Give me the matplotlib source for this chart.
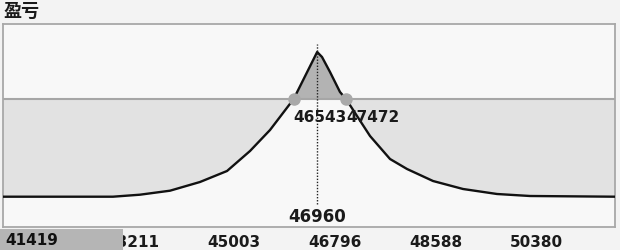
import matplotlib
matplotlib.use("Agg")
import matplotlib.pyplot as plt
from matplotlib.patches import Rectangle
from matplotlib.transforms import blended_transform_factory

plt.rcParams["font.family"] = ["DejaVu Sans", "Noto Sans CJK SC"]

# payoff curve (price -> profit/loss)
prices = [41384, 43336, 43815, 44348, 44880, 45360, 45768, 46123,
          46543, 46960, 47046, 47188, 47365, 47472, 47667, 47898, 48253,
          48555, 49016, 49549, 50152, 50738, 52246]
pnl = [-977, -977, -957, -917, -830, -720, -520, -310,
       0, 470, 420, 270, 70, 0, -170, -370, -600,
       -700, -820, -900, -950, -970, -977]

level = 0                       # breakeven line
breakevens = [46543, 47472]
breakeven_labels = ["46543", "47472"]
peak_price = 46960
peak_label = "46960"

tick_values = [43211, 45003, 46796, 48588, 50380]
tick_labels = ["43211", "45003", "46796", "48588", "50380"]
cursor_value = 41419
cursor_label = "41419"

fig = plt.figure(figsize=(6.2, 2.51), dpi=100, facecolor="#f3f3f3")
ax = fig.add_axes([3 / 620, 1 - 228 / 251, 612 / 620, 203 / 251])
ax.set_facecolor("#f8f8f8")
ax.set_xlim(41384, 52246)
ax.set_ylim(-1280, 750)

# shaded areas between breakeven line and curve
ax.fill_between(prices, pnl, level, where=[v <= level for v in pnl],
                interpolate=True, color="#e2e2e2", lw=0, zorder=1)
ax.fill_between(prices, pnl, level, where=[v >= level for v in pnl],
                interpolate=True, color="#b3b3b3", lw=0, zorder=1)
ax.axhline(level, color="#a6a6a6", lw=1.5, zorder=2)
ax.plot(prices, pnl, color="#111111", lw=1.7, zorder=3)

# peak marker
ax.axvline(peak_price, ymin=(228 - 205) / 203, ymax=(228 - 45) / 203,
           color="#222222", lw=1.0, ls=(0, (1, 1.2)), zorder=4)
trans = blended_transform_factory(ax.transData, ax.transAxes)
ax.text(peak_price, (228 - 217) / 203, peak_label, transform=trans,
        ha="center", va="center", fontsize=12, fontweight="bold", color="#1a1a1a")

# breakeven points
ax.plot(breakevens, [level] * len(breakevens), "o", ms=8, color="#a9a9a9",
        mec="#a9a9a9", zorder=5)
for x, lab in zip(breakevens, breakeven_labels):
    ax.annotate(lab, (x, level), xytext=(0, -7), textcoords="offset points",
                ha="left", va="top", fontsize=11, fontweight="bold",
                color="#1a1a1a", zorder=6)

# axis styling
for sp in ax.spines.values():
    sp.set_color("#a8a8a8")
    sp.set_linewidth(1.3)
ax.set_yticks([])
ax.set_xticks(tick_values)
ax.set_xticklabels(tick_labels, ha="left", fontsize=11, fontweight="bold",
                   color="#1a1a1a")
ax.tick_params(axis="x", length=0, pad=5)

# cursor box at the left end of the axis
ax.add_patch(Rectangle((-3 / 612, -23 / 203), 123 / 612, 21 / 203,
                       transform=ax.transAxes, clip_on=False,
                       facecolor="#b5b5b5", edgecolor="none", zorder=7))
ax.text(cursor_value, -12.5 / 203, cursor_label, transform=trans,
        ha="left", va="center", fontsize=11, fontweight="bold",
        color="#111111", zorder=8, clip_on=False)

fig.text(3 / 620, 1 - 3 / 251, "盈亏", ha="left", va="top", fontsize=13,
         fontweight="bold", color="#1a1a1a")

fig.savefig("out.png", dpi=100, facecolor=fig.get_facecolor())
